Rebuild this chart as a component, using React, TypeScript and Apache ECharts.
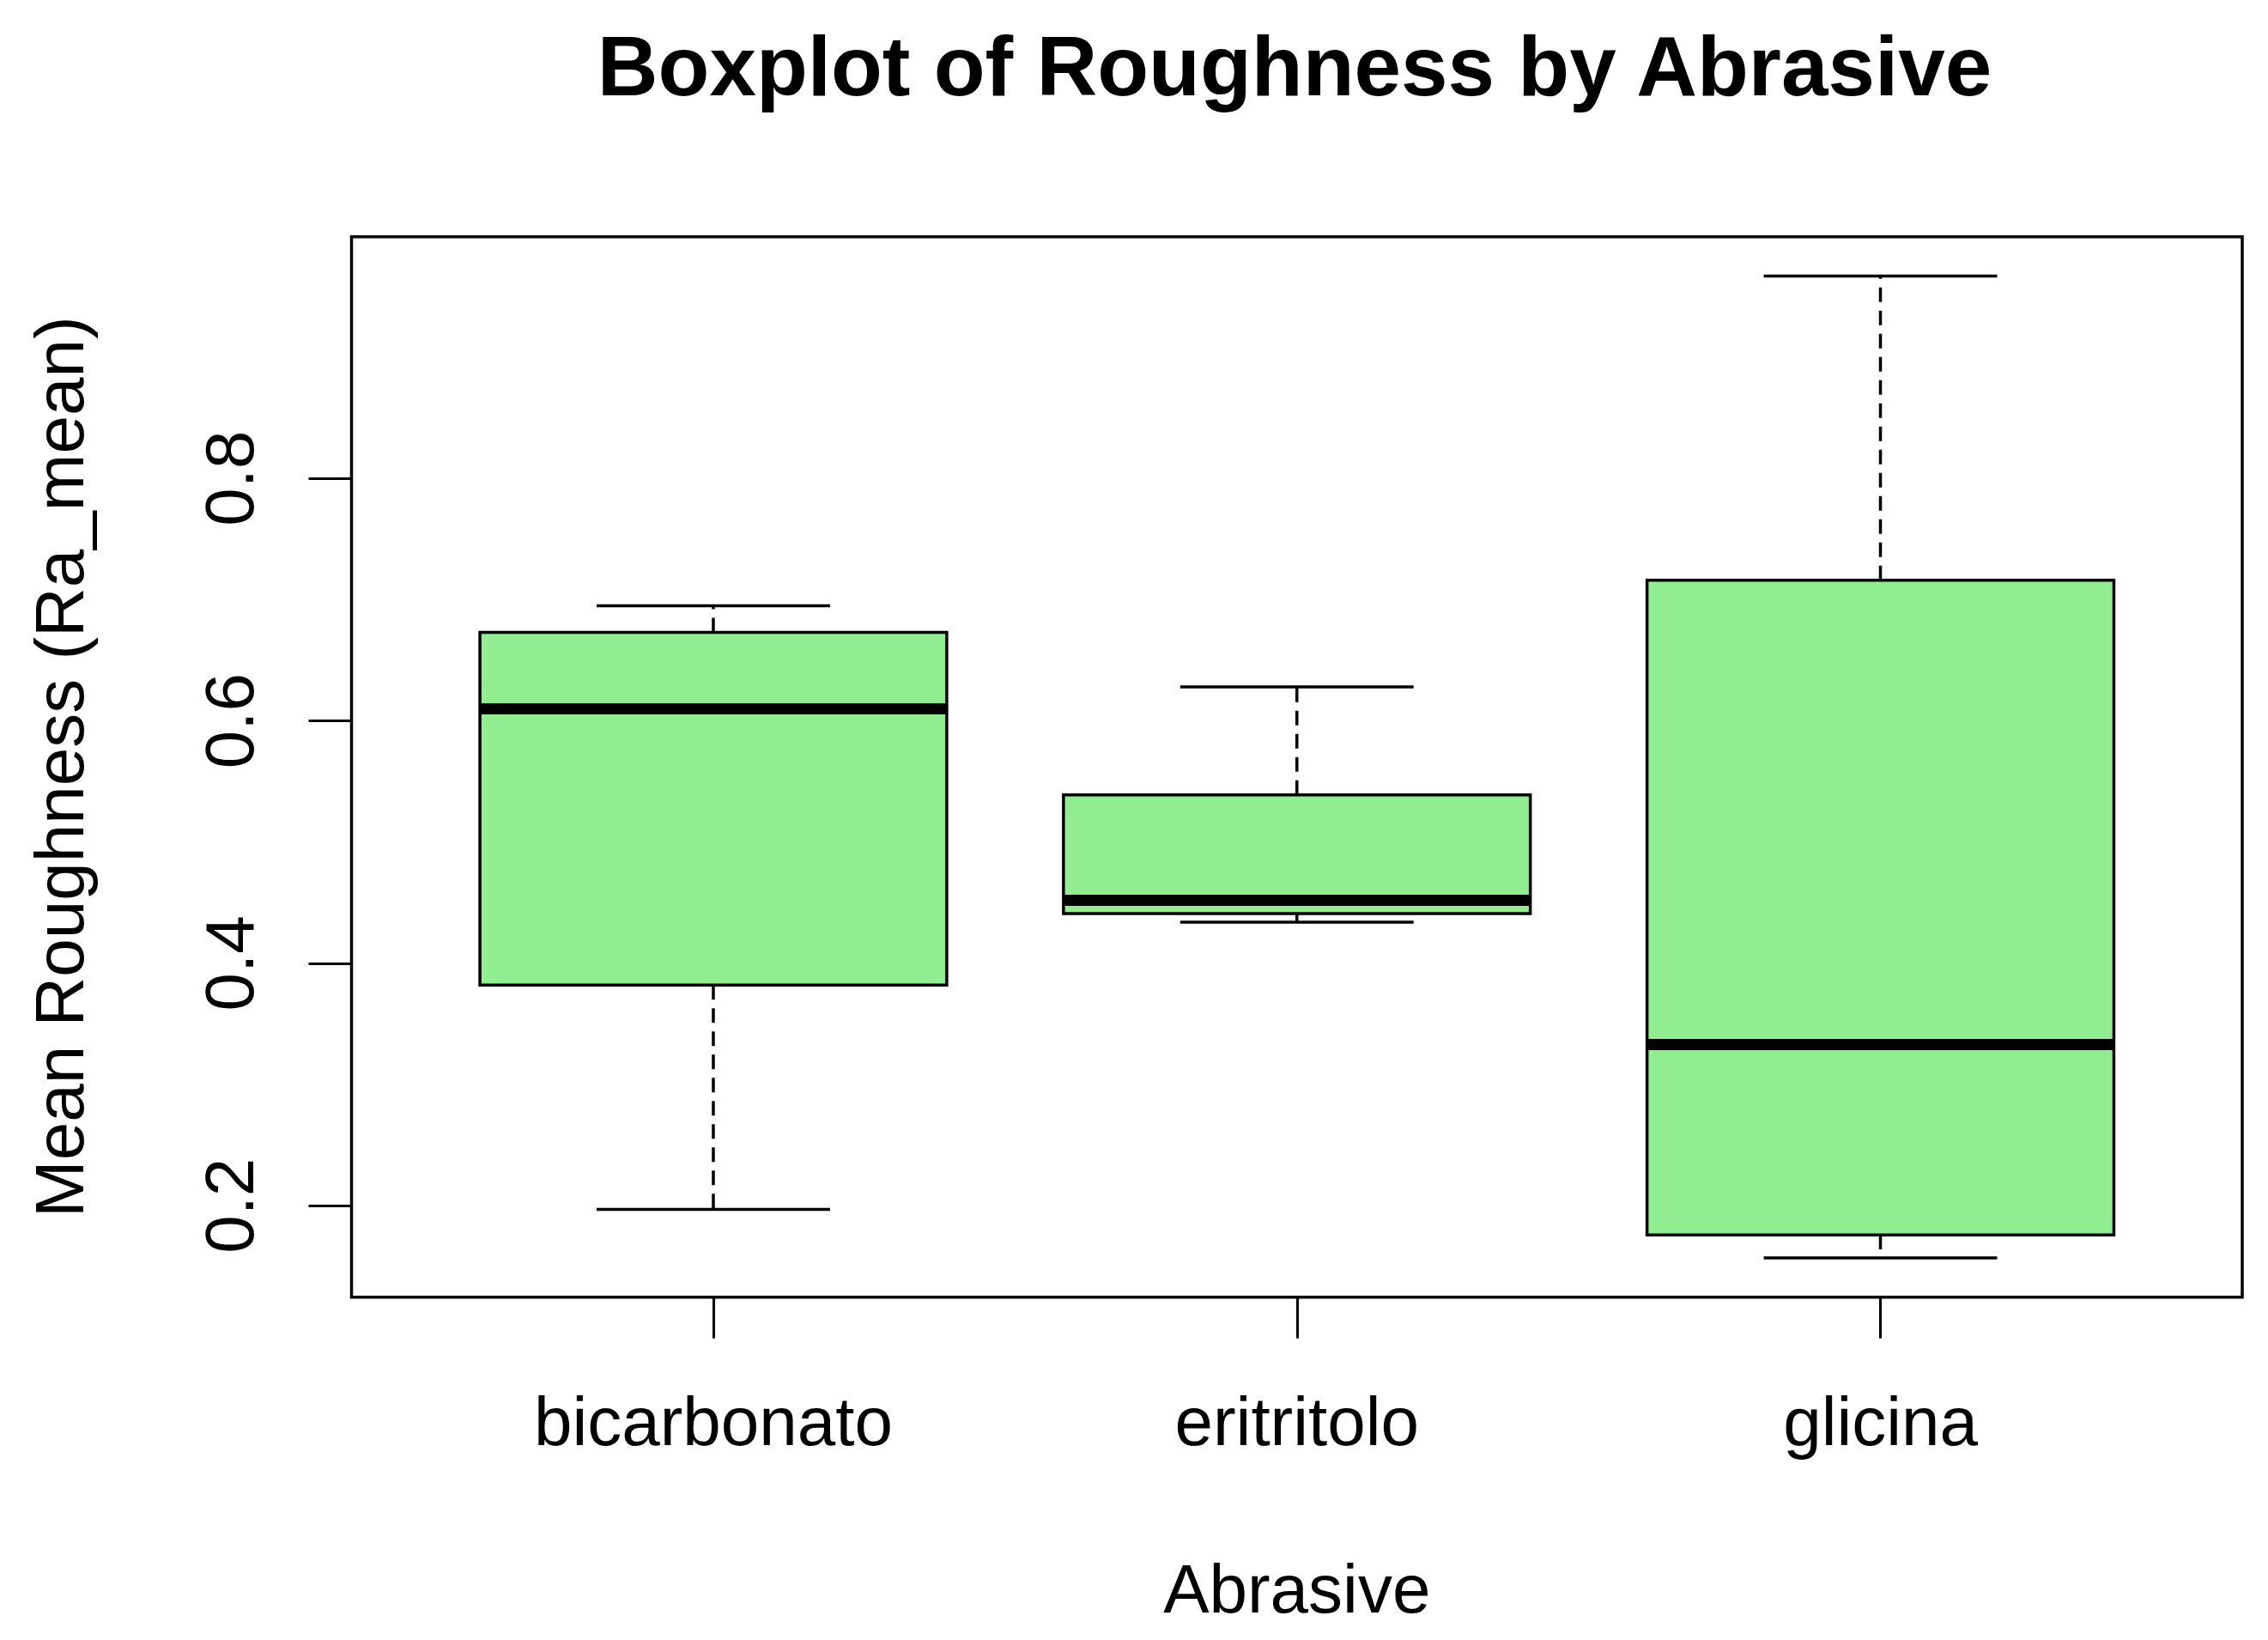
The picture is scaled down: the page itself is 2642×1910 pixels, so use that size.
import React, { useEffect, useRef } from "react";
import * as echarts from "echarts";

// ---- data ----
const categories = ["bicarbonato", "eritritolo", "glicina"];
const lowerWhisker = [0.197, 0.434, 0.157];
const q1 = [0.382, 0.441, 0.176];
const median = [0.61, 0.452, 0.333];
const q3 = [0.673, 0.539, 0.716];
const upperWhisker = [0.695, 0.628, 0.967];
const yTicks = [0.2, 0.4, 0.6, 0.8];
const xTicks = [1, 2, 3];

const TITLE = "Boxplot of Roughness by Abrasive";
const X_NAME = "Abrasive";
const Y_NAME = "Mean Roughness (Ra_mean)";

const FONT = "'Liberation Sans', Arial, Helvetica, sans-serif";

export default function App() {
  const ref = useRef<HTMLDivElement>(null);

  useEffect(() => {
    document.body.style.margin = "0";
    const chart = echarts.init(ref.current!, null, { renderer: "svg" });

    const all = [...lowerWhisker, ...upperWhisker];
    const lo = Math.min(...all);
    const hi = Math.max(...all);
    const pad = (hi - lo) * 0.04;
    const xPad = 3 * 0.04;

    const data = categories.map((_, i) => [
      i + 1,
      lowerWhisker[i],
      q1[i],
      median[i],
      q3[i],
      upperWhisker[i],
    ]);

    const lineStyle = { color: "#000", width: 3 };

    chart.setOption({
      animation: false,
      backgroundColor: "#ffffff",
      grid: {
        left: 409.5,
        right: 30,
        top: 275.7,
        bottom: 399.3,
        show: true,
        borderColor: "#000",
        borderWidth: 3.5,
        backgroundColor: "transparent",
        containLabel: false,
        outerBoundsMode: "none",
      },
      graphic: [
        {
          type: "text",
          x: 1508,
          y: 77,
          style: {
            text: TITLE,
            fill: "#000",
            font: `bold 98px ${FONT}`,
            textAlign: "center",
            textVerticalAlign: "middle",
          },
        },
      ],
      xAxis: {
        type: "value",
        min: 0.5 - xPad,
        max: 3.5 + xPad,
        axisLine: { show: false },
        splitLine: { show: false },
        axisTick: {
          show: true,
          customValues: xTicks,
          length: 48,
          lineStyle,
        },
        axisLabel: {
          customValues: xTicks,
          formatter: (v: number) => categories[Math.round(v) - 1] ?? "",
          fontSize: 80,
          fontFamily: FONT,
          color: "#000",
          margin: 105,
        },
        name: X_NAME,
        nameLocation: "middle",
        nameGap: 300,
        nameTextStyle: { fontSize: 80, fontFamily: FONT, color: "#000" },
      },
      yAxis: {
        type: "value",
        min: lo - pad,
        max: hi + pad,
        axisLine: { show: false },
        splitLine: { show: false },
        axisTick: {
          show: true,
          customValues: yTicks,
          length: 50,
          lineStyle,
        },
        axisLabel: {
          customValues: yTicks,
          rotate: 90,
          formatter: (v: number) => v.toFixed(1),
          fontSize: 80,
          fontFamily: FONT,
          color: "#000",
          margin: 102,
        },
        name: Y_NAME,
        nameLocation: "middle",
        nameRotate: 90,
        nameGap: 300,
        nameTextStyle: { fontSize: 80, fontFamily: FONT, color: "#000" },
      },
      series: [
        {
          type: "custom",
          data,
          encode: { x: 0, y: [1, 2, 3, 4, 5] },
          renderItem: (_params: any, api: any) => {
            const xv = api.value(0);
            const [cx, yLw] = api.coord([xv, api.value(1)]);
            const yQ1 = api.coord([xv, api.value(2)])[1];
            const yMed = api.coord([xv, api.value(3)])[1];
            const yQ3 = api.coord([xv, api.value(4)])[1];
            const yUw = api.coord([xv, api.value(5)])[1];
            const halfBox = api.size([0.4, 0])[0];
            const halfCap = api.size([0.2, 0])[0];
            const dashed = {
              stroke: "#000",
              lineWidth: 3.5,
              lineDash: [17, 10],
              fill: null,
            };
            const solid = { stroke: "#000", lineWidth: 3.5, fill: null };
            return {
              type: "group",
              children: [
                {
                  type: "line",
                  shape: { x1: cx, y1: yQ1, x2: cx, y2: yLw },
                  style: dashed,
                },
                {
                  type: "line",
                  shape: { x1: cx, y1: yQ3, x2: cx, y2: yUw },
                  style: dashed,
                },
                {
                  type: "line",
                  shape: { x1: cx - halfCap, y1: yLw, x2: cx + halfCap, y2: yLw },
                  style: solid,
                },
                {
                  type: "line",
                  shape: { x1: cx - halfCap, y1: yUw, x2: cx + halfCap, y2: yUw },
                  style: solid,
                },
                {
                  type: "rect",
                  shape: {
                    x: cx - halfBox,
                    y: yQ3,
                    width: 2 * halfBox,
                    height: yQ1 - yQ3,
                  },
                  style: { fill: "#90EE90", stroke: "#000", lineWidth: 3.5 },
                },
                {
                  type: "line",
                  shape: { x1: cx - halfBox, y1: yMed, x2: cx + halfBox, y2: yMed },
                  style: { stroke: "#000", lineWidth: 13, lineCap: "butt" },
                },
              ],
            };
          },
        },
      ],
    });

    return () => {
      chart.dispose();
    };
  }, []);

  return <div ref={ref} style={{ width: 2642, height: 1910 }} />;
}
